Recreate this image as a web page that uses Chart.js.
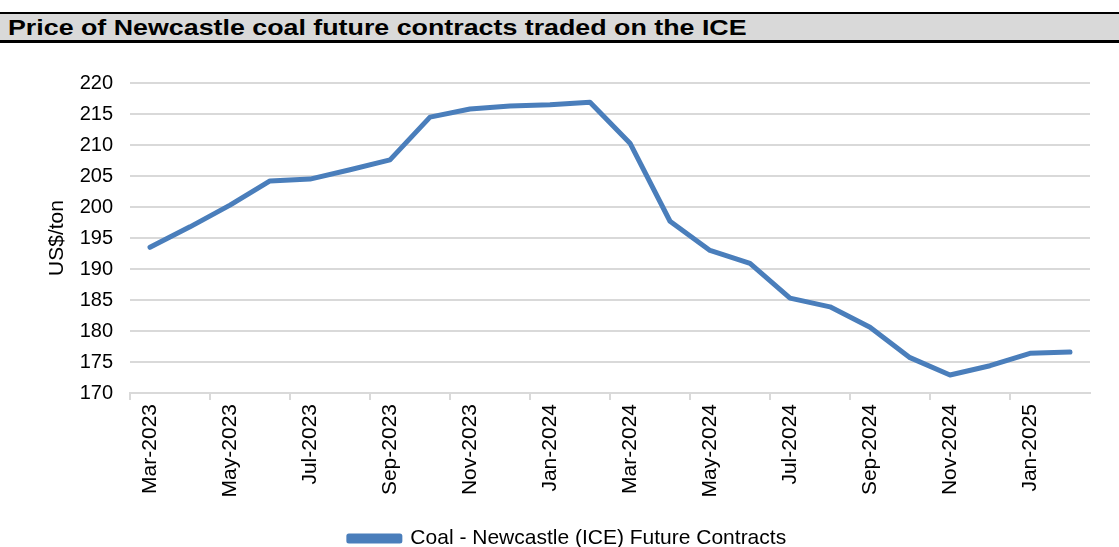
<!DOCTYPE html>
<html>
<head>
<meta charset="utf-8">
<script src="https://cdn.jsdelivr.net/npm/chart.js@4/dist/chart.umd.min.js"></script>
<style>
  html, body { margin: 0; padding: 0; background: #fff; }
  body { width: 1119px; height: 547px; position: relative; overflow: hidden; font-family: "Liberation Sans", Arial, sans-serif; }
  #title {
    position: absolute; left: 0; top: 12px; width: 1119px; height: 26px;
    background: #d9d9d9; border-top: 2px solid #000; border-bottom: 3px solid #000;
    color: #000; white-space: nowrap; overflow: hidden;
  }
  #title span {
    display: inline-block; margin-left: 8px; font-weight: bold; font-size: 22px; line-height: 27px;
    transform: scaleX(1.218); transform-origin: left center;
  }
  #wrap { position: absolute; left: 0; top: 46px; width: 1119px; height: 501px; }
</style>
</head>
<body>
<div id="title"><span>Price of Newcastle coal future contracts traded on the ICE</span></div>
<div id="wrap"><canvas id="coalChart"></canvas></div>
<script>
// monthly settlement, US$/ton
const months = [
  "Mar-2023", "Apr-2023", "May-2023", "Jun-2023", "Jul-2023", "Aug-2023",
  "Sep-2023", "Oct-2023", "Nov-2023", "Dec-2023", "Jan-2024", "Feb-2024",
  "Mar-2024", "Apr-2024", "May-2024", "Jun-2024", "Jul-2024", "Aug-2024",
  "Sep-2024", "Oct-2024", "Nov-2024", "Dec-2024", "Jan-2025", "Feb-2025"
];
const prices = [
  193.5, 196.8, 200.3, 204.2, 204.5, 206.0,
  207.6, 214.5, 215.8, 216.3, 216.5, 216.9,
  210.3, 197.7, 193.0, 190.9, 185.3, 183.9,
  180.6, 175.7, 172.9, 174.4, 176.4, 176.6
];
const yTicks = [170, 175, 180, 185, 190, 195, 200, 205, 210, 215, 220];

const blue = "#4a7ebb";
const gridGrey = "#d9d9d9";
Chart.defaults.font.family = '"Liberation Sans", Arial, sans-serif';
Chart.defaults.color = "#000";

new Chart(document.getElementById("coalChart"), {
  type: "line",
  data: {
    labels: months,
    datasets: [{
      label: "Coal - Newcastle (ICE) Future Contracts",
      data: prices,
      borderColor: blue,
      backgroundColor: blue,
      borderWidth: 5,
      borderCapStyle: "round",
      borderJoinStyle: "round",
      pointRadius: 0,
      tension: 0
    }]
  },
  options: {
    responsive: true,
    maintainAspectRatio: false,
    animation: false,
    layout: { padding: { left: 45, right: 29, top: 37, bottom: -12 } },
    plugins: {
      tooltip: { enabled: false },
      legend: {
        position: "bottom",
        labels: { boxWidth: 51, boxHeight: 5, padding: 0, font: { size: 21 } }
      }
    },
    scales: {
      x: {
        offset: true,
        afterFit: (s) => { s.height = 135; },
        grid: {
          offset: true,
          drawOnChartArea: false,
          tickLength: 7,
          lineWidth: 2,
          color: (ctx) => (ctx.index % 2 === 0 ? gridGrey : "rgba(0,0,0,0)")
        },
        border: { color: gridGrey, width: 2 },
        ticks: {
          autoSkip: false,
          minRotation: 90,
          maxRotation: 90,
          padding: 4,
          font: { size: 21 },
          callback: function (v, i) { return i % 2 === 0 ? this.getLabelForValue(v) : ""; }
        }
      },
      y: {
        min: 170,
        max: 220,
        afterFit: (s) => { s.width = 85; },
        afterBuildTicks: (s) => { s.ticks = yTicks.map((v) => ({ value: v })); },
        grid: { color: gridGrey, lineWidth: 2, drawTicks: false },
        border: { display: false },
        ticks: { padding: 17, font: { size: 20 } },
        title: { display: true, text: "US$/ton", font: { size: 21 }, padding: { top: 0, bottom: 0 } }
      }
    }
  }
});
</script>
</body>
</html>
